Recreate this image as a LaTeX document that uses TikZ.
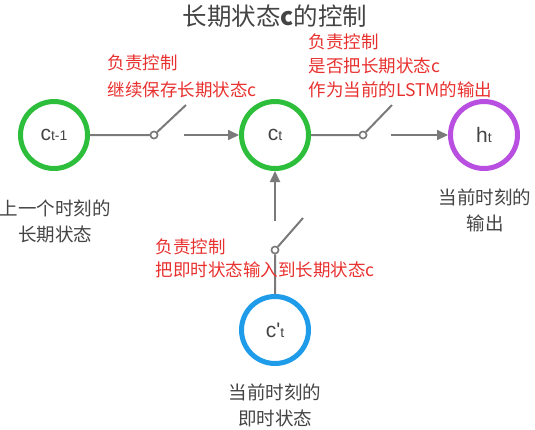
\documentclass[tikz,border=0pt]{standalone}
\usepackage{fontspec}
\setmainfont{Noto Sans CJK SC}
\newfontfamily\latfont{Liberation Sans}
\usetikzlibrary{arrows.meta}
\definecolor{ringgreen}{HTML}{2DBE3C}
\definecolor{ringpurple}{HTML}{B94FE0}
\definecolor{ringblue}{HTML}{1E9BE9}
\definecolor{wiregray}{HTML}{7A7A7A}
\definecolor{txtgray}{HTML}{444444}
\definecolor{notered}{HTML}{E8312F}

\begin{document}
\begin{tikzpicture}[x=1pt,y=-1pt,>={Triangle[length=11pt,width=10pt]},
  state/.style={circle,draw,line width=5pt,minimum size=67pt,inner sep=0pt,text=txtgray,font=\latfont\fontsize{21}{21}\selectfont},
  sw/.style={circle,draw=wiregray,fill=white,line width=1.5pt,minimum size=7pt,inner sep=0pt},
  wire/.style={draw=wiregray,line width=2pt},
  note/.style={text=notered,align=left,anchor=west},
  desc/.style={text=txtgray,align=center,font=\fontsize{18.5}{26}\selectfont}]
  \useasboundingbox (0,0) rectangle (535,429);
  \node[text=txtgray,font=\fontsize{24.5}{24}\selectfont] (title) at (275,16) {长期状态\textbf{c}的控制};
  % the three states on the main line
  \node[state,draw=ringgreen] (cprev) at (54,135) {c{\fontsize{14}{14}\selectfont t-1}};
  \node[state,draw=ringgreen] (ccur) at (275,135) {c{\fontsize{14}{14}\selectfont t}};
  \node[state,draw=ringpurple] (hcur) at (484,135) {h{\fontsize{14}{14}\selectfont t}};
  \node[state,draw=ringblue] (cnew) at (275,330) {c\textquotesingle{\fontsize{14}{14}\selectfont t}};
  % switches
  \node[sw] (sw1) at (154,135) {};
  \coordinate (lev1) at (186,105);
  \coordinate (in1) at (184,135);
  \node[sw] (sw2) at (363,135) {};
  \coordinate (lev2) at (392,105);
  \coordinate (in2) at (391,135);
  \node[sw] (sw3) at (275,250) {};
  \coordinate (lev3) at (303,218);
  \coordinate (in3) at (275,221);
  \draw[wire] (cprev) -- (sw1) -- (lev1);
  \draw[wire,->] (in1) -- (ccur);
  \draw[wire] (ccur) -- (sw2) -- (lev2);
  \draw[wire,->] (in2) -- (hcur);
  \draw[wire] (cnew) -- (sw3) -- (lev3);
  \draw[wire,->] (in3) -- (ccur);
  \node[sw] at (sw1) {};
  \node[sw] at (sw2) {};
  \node[sw] at (sw3) {};
  % notes
  \node[note,font=\fontsize{17.5}{27}\selectfont] (note1) at (104,76) {负责控制\\继续保存长期状态c};
  \node[note,font=\fontsize{17.5}{24}\selectfont] (note2) at (305,66) {负责控制\\是否把长期状态c\\作为当前的LSTM的输出};
  \node[note,font=\fontsize{17.5}{23}\selectfont] (note3) at (152,258) {负责控制\\把即时状态输入到长期状态c};
  \node[desc] (dprev) at (55,221) {上一个时刻的\\长期状态};
  \node[desc] (dout) at (485,210) {当前时刻的\\输出};
  \node[desc] (dnew) at (275,405) {当前时刻的\\即时状态};
\end{tikzpicture}
\end{document}
